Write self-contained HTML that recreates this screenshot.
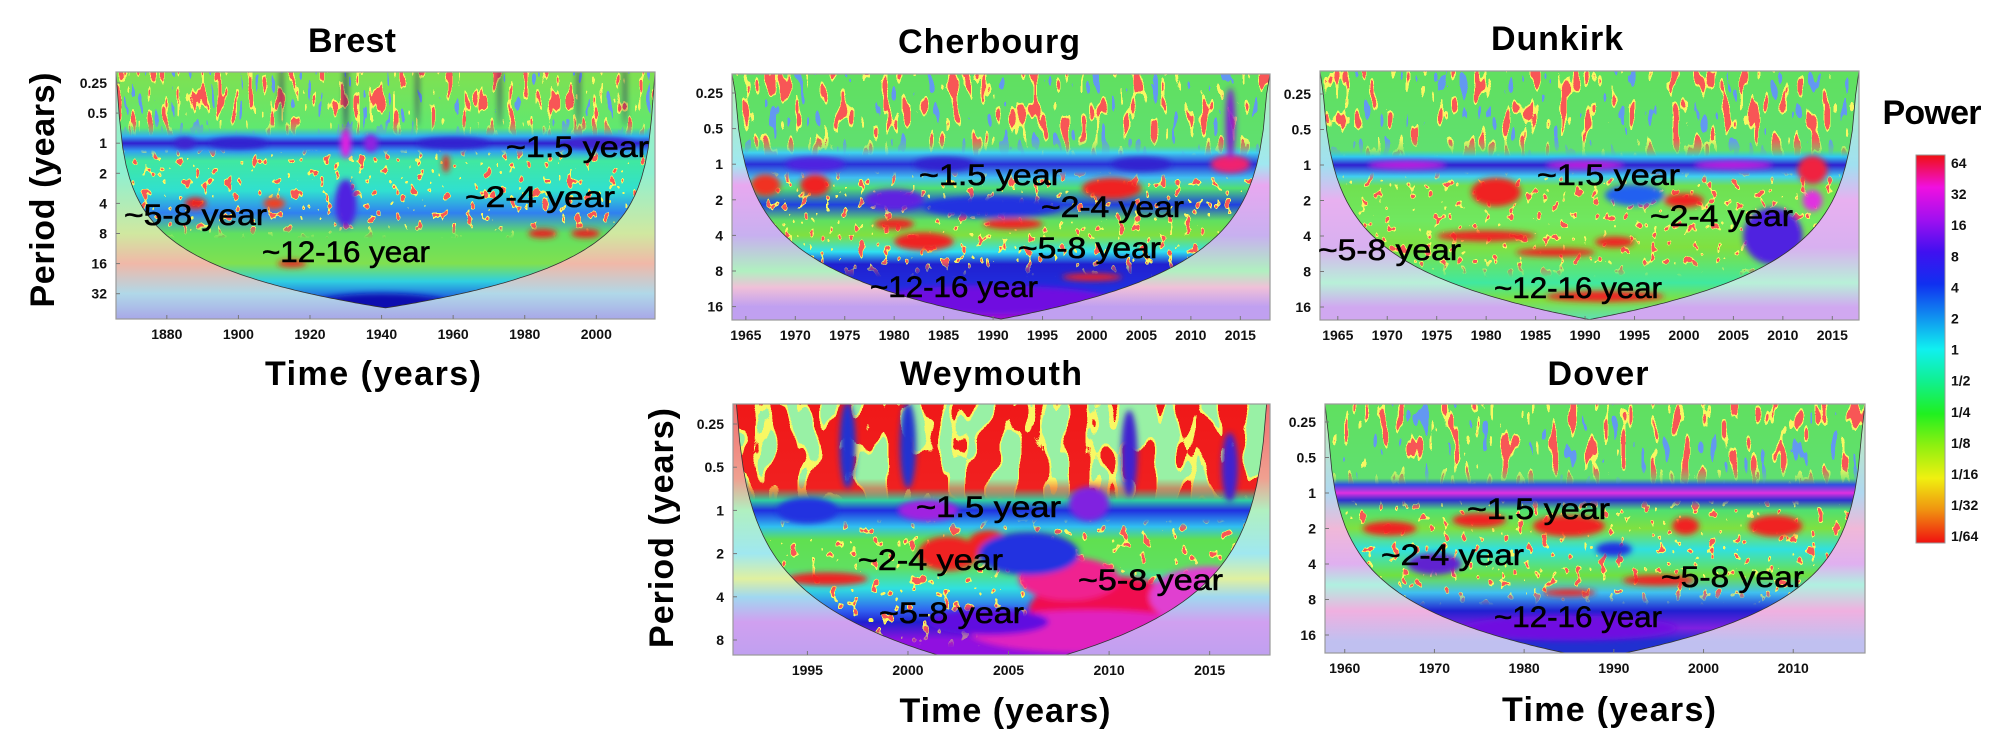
<!DOCTYPE html>
<html><head><meta charset="utf-8">
<style>
html,body{margin:0;padding:0;background:#fff;}
svg{display:block;font-family:"Liberation Sans",sans-serif;}
.ttl{font-weight:bold;font-size:34px;fill:#000;}
.ann{font-size:30px;fill:#000;stroke:#000;stroke-width:0.6;}
.tk{font-weight:bold;font-size:14px;fill:#111;}
</style></head>
<body>
<svg id="root" width="2008" height="754" viewBox="0 0 2008 754">
<defs id="defs">
  <filter id="blur3" x="-50%" y="-50%" width="200%" height="200%"><feGaussianBlur stdDeviation="3"/></filter>
  <linearGradient id="cbar" x1="0" y1="0" x2="0" y2="1">
    <stop offset="0" stop-color="#f01010"/><stop offset="0.083" stop-color="#f010e0"/>
    <stop offset="0.167" stop-color="#a010f0"/><stop offset="0.25" stop-color="#4010f0"/>
    <stop offset="0.333" stop-color="#1030f0"/><stop offset="0.417" stop-color="#1090f0"/>
    <stop offset="0.5" stop-color="#10f0f0"/><stop offset="0.583" stop-color="#10f090"/>
    <stop offset="0.667" stop-color="#20f020"/><stop offset="0.75" stop-color="#90f010"/>
    <stop offset="0.833" stop-color="#f0f010"/><stop offset="0.917" stop-color="#f09010"/>
    <stop offset="1" stop-color="#f01010"/>
  </linearGradient>
</defs>

<text class="ttl" x="352" y="52" text-anchor="middle" textLength="88">Brest</text>
<text class="ttl" x="989" y="53" text-anchor="middle" textLength="182">Cherbourg</text>
<text class="ttl" x="1557" y="50" text-anchor="middle" textLength="132">Dunkirk</text>
<text class="ttl" x="991" y="385" text-anchor="middle" textLength="182">Weymouth</text>
<text class="ttl" x="1598" y="385" text-anchor="middle" textLength="101">Dover</text>

<text class="ttl" transform="translate(54,190) rotate(-90)" text-anchor="middle" textLength="235">Period (years)</text>
<text class="ttl" transform="translate(673,528) rotate(-90)" text-anchor="middle" textLength="240">Period (years)</text>
<text class="ttl" x="373" y="385" text-anchor="middle" textLength="216">Time (years)</text>
<text class="ttl" x="1005" y="722" text-anchor="middle" textLength="211">Time (years)</text>
<text class="ttl" x="1609" y="721" text-anchor="middle" textLength="214">Time (years)</text>

<text class="ttl" x="1932" y="124" text-anchor="middle" textLength="99" font-size="32">Power</text>
<rect x="1916" y="155" width="29" height="388" fill="url(#cbar)" stroke="#999" stroke-width="1"/>
<g id="panels"></g>
<g id="cbticks"></g>
<g id="annots"></g>
</svg>

<script>
// ---------- data ----------
const cbLabels = ["64","32","16","8","4","2","1","1/2","1/4","1/8","1/16","1/32","1/64"];

const brestXTicks = [1880,1900,1920,1940,1960,1980,2000];
const brestYTicks = [0.25,0.5,1,2,4,8,16,32];
const brestBlobs = [
 [1930,1,1.5,0.5,'#e020e0'],[1937,1,2,0.3,'#9020e0'],[1930,4,3,0.8,'#5020e0'],
 [1885,1,3,0.2,'#4020d0'],[1900,1,8,0.2,'#3020d0'],[1960,1,10,0.2,'#3020d0'],[2000,1,10,0.2,'#4020d0'],
 [1985,8,4,0.15,'#e82020'],[1997,8,4,0.15,'#e82020'],[2007,14,5,0.2,'#e82020'],[1915,16,4,0.12,'#e82020'],
 [1940,45,22,0.5,'#1010b0'],[1888,4,3,0.2,'#e82020'],[1910,4,3,0.2,'#f04020'],[1958,1.6,1,0.3,'#e82020'],
 [1930,0.3,0.4,1.5,'#201060'],[1912,0.3,0.3,1.2,'#201060'],[1973,0.3,0.3,1.2,'#201060'],[1995,0.3,0.3,1.2,'#201060'],[2008,0.3,0.3,1.2,'#201060'],[1950,0.3,0.3,1.2,'#201060']
];
const brestAnn = [["~1.5 year",506,157,143],["~2-4 year",465,207,150],["~5-8 year",124,225,143],["~12-16 year",262,262,168]];

const cherXTicks = [1965,1970,1975,1980,1985,1990,1995,2000,2005,2010,2015];
const cherYTicks = [0.25,0.5,1,2,4,8,16];
const cherBlobs = [
 [2014,1,2,0.25,'#f02070'],[2014,0.45,0.5,1,'#8020d0'],[1972,1.5,1.5,0.3,'#f02020'],[2002,1.6,3,0.3,'#f02020'],
 [1983,4.5,3,0.25,'#f02020'],[1992,3.2,3,0.15,'#f02020'],[1980,3.2,2,0.15,'#f02020'],[1990,2.3,7,0.3,'#2030e0'],
 [1980,2,3,0.3,'#6020e0'],[1990,14,12,0.4,'#7010e0'],[2000,9,3,0.1,'#f02020'],[1967,1.5,1.5,0.3,'#f03020'],
 [1972,1,3,0.2,'#5020e0'],[1985,1,3,0.2,'#3020d0'],[2005,1,3,0.2,'#3020d0']
];
const cherAnn = [["~1.5 year",919,185,143],["~2-4 year",1041,217,143],["~5-8 year",1018,258,143],["~12-16 year",870,297,168]];

const dunXTicks = [1965,1970,1975,1980,1985,1990,1995,2000,2005,2010,2015];
const dunYTicks = [0.25,0.5,1,2,4,8,16];
const dunBlobs = [
 [2013,1.1,1.5,0.4,'#f02040'],[2013,2,1,0.3,'#e030e0'],[1981,1.7,2.5,0.4,'#f02020'],[1972,1,4,0.12,'#c020e0'],
 [1990,1,4,0.12,'#c020e0'],[2005,1,4,0.12,'#c020e0'],[1980,4,5,0.15,'#f02020'],[1987,5.5,4,0.12,'#f02020'],
 [1992,13,6,0.15,'#f02020'],[2009,4,3,0.8,'#5020e0'],[2000,2,2,0.2,'#f02020'],[1993,4.5,2,0.15,'#f02020'],
 [1995,1.8,3,0.3,'#2060f0']
];
const dunAnn = [["~1.5 year",1537,185,143],["~2-4 year",1650,226,143],["~5-8 year",1318,260,143],["~12-16 year",1494,298,168]];

const weyXTicks = [1995,2000,2005,2010,2015];
const weyYTicks = [0.25,0.5,1,2,4,8];
const weyBlobs = [
 [2010,5,4,0.8,'#f01050'],[2008,3,2.5,0.5,'#f02090'],[2009,7,6,0.5,'#e020c0'],[2004,6,3,0.3,'#6010e0'],
 [2001,1,1.5,0.25,'#a020e0'],[1995,1,1.5,0.3,'#2030e0'],[1996,3,2,0.15,'#f02020'],[2002,2,1.5,0.4,'#f02020'],
 [2004,1.7,1,0.3,'#f02020'],[2006,2,2.5,0.5,'#2030e0'],[2009,0.9,1,0.4,'#8020e0'],[2015,4,3,0.7,'#e040d0'],
 [1997,0.35,0.4,1,'#2030d0'],[2000,0.35,0.4,1,'#2030d0'],[2011,0.4,0.4,1,'#4020d0'],[2016,0.5,0.4,0.8,'#4020d0']
];
const weyAnn = [["~1.5 year",916,517,145],["~2-4 year",858,570,145],["~5-8 year",1078,590,145],["~5-8 year",879,623,145]];

const dovXTicks = [1960,1970,1980,1990,2000,2010];
const dovYTicks = [0.25,0.5,1,2,4,8,16];
const dovBlobs = [
 [1985,1.9,4,0.3,'#f02020'],[2008,1.9,3,0.3,'#f02020'],[1975,1.7,3,0.2,'#f02020'],[1965,2,3,0.2,'#f02020'],
 [1995,5.5,4,0.15,'#f02020'],[1985,7,3,0.1,'#f02020'],[1985,14,12,0.35,'#7010e0'],[1970,4,3,0.3,'#6020d0'],
 [1990,3,2,0.2,'#2030e0'],[1998,1.9,1.5,0.25,'#f02020']
];
const dovAnn = [["~1.5 year",1467,519,143],["~2-4 year",1381,565,143],["~5-8 year",1661,587,143],["~12-16 year",1494,627,168]];

// ---------- panel configs (layout/style) ----------
const panels = [
 {id:'brest',x0:116,x1:655,y0:72,y1:319,t0:1865.8,t1:2016.4,yq:83,ppo:30.1,k:0.59,
  xt:brestXTicks,yt:brestYTicks,blobs:brestBlobs,ann:brestAnn,seed:3,freq:"0.13 0.035",
  inside:[[0.18,'#80e050'],[0.7,'#60e870'],[0.85,'#30b0f0'],[1,'#3020d0'],[1.2,'#30a0f0'],[1.5,'#40e8a0'],[3,'#30e0d0'],[5,'#3080f0'],[8,'#60e060'],[16,'#80e050'],[24,'#30d0e0'],[40,'#1a40e0'],[60,'#1010c0']],
  outside:[[0.18,'#a0f0c0'],[2,'#90f0d0'],[8,'#d0e8a0'],[16,'#f0b8a8'],[32,'#b0d8e8'],[60,'#a8a8e8']],
  tex:'green'},
 {id:'cherbourg',x0:732,x1:1270,y0:74,y1:320,t0:1963.6,t1:2018,yq:93,ppo:35.6,k:0.75,
  xt:cherXTicks,yt:cherYTicks,blobs:cherBlobs,ann:cherAnn,seed:7,freq:"0.1 0.03",
  inside:[[0.18,'#60e060'],[0.7,'#60e070'],[0.8,'#40d0f0'],[1,'#2a30d8'],[1.3,'#40c0f0'],[1.6,'#50e070'],[2.2,'#2040e0'],[3,'#60e060'],[4,'#80e040'],[5.5,'#30e0f0'],[7,'#2020d0'],[12,'#2030e0'],[16,'#8020e0'],[20,'#a010d0']],
  outside:[[0.18,'#b0f0b0'],[1,'#a0e8f0'],[1.5,'#e8a8f0'],[4,'#c8b0f0'],[8,'#b0f0c0'],[11,'#f0c0d8'],[16,'#c0a0f0'],[20,'#c0a0f0']],
  tex:'green'},
 {id:'dunkirk',x0:1320,x1:1859,y0:71,y1:320,t0:1963.2,t1:2017.7,yq:94,ppo:35.5,k:0.75,
  xt:dunXTicks,yt:dunYTicks,blobs:dunBlobs,ann:dunAnn,seed:11,freq:"0.1 0.03",
  inside:[[0.18,'#60e060'],[0.75,'#60e070'],[0.85,'#30c8f0'],[1,'#3020d0'],[1.25,'#40d0f0'],[1.5,'#70e050'],[3,'#70e860'],[5,'#80e040'],[10,'#40e8a0'],[14,'#80e040'],[20,'#60e0b0']],
  outside:[[0.18,'#b0f0c0'],[1,'#a0e0f0'],[2,'#e8b0f0'],[5,'#d8b0f0'],[10,'#b8f0d8'],[16,'#d0a8f0'],[20,'#d0a8f0']],
  tex:'green'},
 {id:'weymouth',x0:733,x1:1270,y0:404,y1:655,t0:1991.3,t1:2018,yq:424,ppo:43.2,k:1.0,
  xt:weyXTicks,yt:weyYTicks,blobs:weyBlobs,ann:weyAnn,seed:5,freq:"0.045 0.02",
  inside:[[0.18,'#f01818'],[0.7,'#f02020'],[0.85,'#30d0a0'],[1,'#2030e0'],[1.3,'#30c0f0'],[1.6,'#60e050'],[2.5,'#60e060'],[3.5,'#30e0e0'],[5,'#3060f0'],[6,'#2020d0'],[8,'#9010e0'],[11,'#9010e0']],
  outside:[[0.18,'#f07070'],[0.6,'#f0a090'],[1,'#b0f0c0'],[2,'#a0e8f0'],[3,'#e0f0a0'],[4,'#a0d8f0'],[6,'#d0a0f0'],[11,'#c0a0f0']],
  tex:'red'},
 {id:'dover',x0:1325,x1:1865,y0:404,y1:653,t0:1957.8,t1:2018,yq:422,ppo:35.5,k:0.85,
  xt:dovXTicks,yt:dovYTicks,blobs:dovBlobs,ann:dovAnn,seed:13,freq:"0.1 0.03",
  inside:[[0.18,'#60e060'],[0.75,'#60e070'],[0.85,'#3050e0'],[1,'#e030e0'],[1.15,'#3030d0'],[1.4,'#50e070'],[2,'#80e040'],[3,'#30e0e0'],[5,'#70e040'],[7,'#40c0f0'],[10,'#2020d0'],[14,'#8020e0'],[18,'#2030d0']],
  outside:[[0.18,'#c0f0b0'],[1,'#b0d8f0'],[2,'#f0b8d8'],[4,'#e0b0f0'],[6,'#b0f0e0'],[10,'#f0b0e0'],[18,'#c0c0f0']],
  tex:'green'}
];

const NS='http://www.w3.org/2000/svg';
function mk(tag,attrs,parent){const e=document.createElementNS(NS,tag);for(const k in attrs)e.setAttribute(k,attrs[k]);if(parent)parent.appendChild(e);return e;}
const defs=document.getElementById('defs');
const root=document.getElementById('panels');

function table(thr,above){const a=[];for(let i=0;i<20;i++){const v=i/20;a.push(above?(v>=thr?1:0):((i+1)/20<=thr?1:0));}return a.join(' ');}

panels.forEach(P=>{
  const yOf=p=>P.yq+(Math.log2(p)+2)*P.ppo;
  const xOf=t=>P.x0+(t-P.t0)/(P.t1-P.t0)*(P.x1-P.x0);
  const W=P.x1-P.x0,H=P.y1-P.y0;
  const off=p=>Math.max(0,Math.min(1,(yOf(p)-P.y0)/H));
  function grad(id,stops){
    const g=mk('linearGradient',{id:id,x1:0,y1:0,x2:0,y2:1},defs);
    stops.forEach(s=>mk('stop',{offset:off(s[0]),'stop-color':s[1]},g));
  }
  grad(P.id+'-in',P.inside); grad(P.id+'-out',P.outside);
  let d=`M${P.x0},${P.y0}`;
  for(let i=0;i<=160;i++){const t=P.t0+(P.t1-P.t0)*i/160;const dist=Math.min(t-P.t0,P.t1-t);const p=P.k*dist;
    let y=p<=0?P.y0:Math.max(P.y0,Math.min(P.y1,yOf(p)));d+=` L${xOf(t).toFixed(1)},${y.toFixed(1)}`;}
  d+=' Z';
  const cp=mk('clipPath',{id:P.id+'-cone'},defs); mk('path',{d:d},cp);
  const cr=mk('clipPath',{id:P.id+'-rect'},defs); mk('rect',{x:P.x0,y:P.y0,width:W,height:H},cr);

  // texture layers: [color, threshold, above?, freq, seedOffset, maskKind]
  let layers;
  if(P.tex==='green'){
    layers=[['#f0f020',0.56,true,P.freq,0,'top'],['#f01818',0.61,true,P.freq,0,'top'],['#2050e0',0.34,false,P.freq,0,'top'],
            ['#f0f020',0.64,true,'0.12 0.09',9,'mid'],['#f01818',0.69,true,'0.12 0.09',9,'mid']];
  } else {
    layers=[['#f0f020',0.5,false,P.freq,0,'top'],['#50e060',0.45,false,P.freq,0,'top'],
            ['#f0f020',0.64,true,'0.1 0.08',9,'mid'],['#f01818',0.69,true,'0.1 0.08',9,'mid']];
  }
  layers.forEach((L,i)=>{
    const f=mk('filter',{id:P.id+'-tx'+i,filterUnits:'userSpaceOnUse',x:P.x0,y:P.y0,width:W,height:H},defs);
    mk('feTurbulence',{type:'fractalNoise',baseFrequency:L[3],numOctaves:2,seed:P.seed+L[4],result:'n'},f);
    const rgb=[parseInt(L[0].substr(1,2),16)/255,parseInt(L[0].substr(3,2),16)/255,parseInt(L[0].substr(5,2),16)/255];
    mk('feColorMatrix',{type:'matrix',values:`0 0 0 0 ${rgb[0]} 0 0 0 0 ${rgb[1]} 0 0 0 0 ${rgb[2]} 1 0 0 0 0`,result:'c'},f);
    const ct=mk('feComponentTransfer',{},f); mk('feFuncA',{type:'discrete',tableValues:table(L[1],L[2])},ct);
  });
  const mg=mk('linearGradient',{id:P.id+'-mg',gradientUnits:'userSpaceOnUse',x1:0,x2:0,y1:yOf(0.6),y2:yOf(0.85)},defs);
  mk('stop',{offset:0,'stop-color':'#fff'},mg); mk('stop',{offset:1,'stop-color':'#000'},mg);
  const m=mk('mask',{id:P.id+'-mask',maskUnits:'userSpaceOnUse',x:P.x0,y:P.y0,width:W,height:H},defs);
  mk('rect',{x:P.x0,y:P.y0,width:W,height:H,fill:`url(#${P.id}-mg)`},m);
  const mg2=mk('linearGradient',{id:P.id+'-mg2',gradientUnits:'userSpaceOnUse',x1:0,x2:0,y1:yOf(1.15),y2:yOf(9)},defs);
  mk('stop',{offset:0,'stop-color':'#000'},mg2); mk('stop',{offset:0.08,'stop-color':'#fff'},mg2);
  mk('stop',{offset:0.85,'stop-color':'#fff'},mg2); mk('stop',{offset:1,'stop-color':'#000'},mg2);
  const m2=mk('mask',{id:P.id+'-mask2',maskUnits:'userSpaceOnUse',x:P.x0,y:P.y0,width:W,height:H},defs);
  mk('rect',{x:P.x0,y:P.y0,width:W,height:H,fill:`url(#${P.id}-mg2)`},m2);

  const g=mk('g',{},root);
  
  
  const bg=mk('rect',{x:P.x0,y:P.y0,width:W,height:H,fill:`url(#${P.id}-out)`},g);
  
  
  const ins=mk('g',{'clip-path':`url(#${P.id}-cone)`},g);
  
  
  mk('rect',{x:P.x0,y:P.y0,width:W,height:H,fill:`url(#${P.id}-in)`},ins);
  const tg=mk('g',{mask:`url(#${P.id}-mask)`},ins);
  const tg2=mk('g',{mask:`url(#${P.id}-mask2)`},ins);
  layers.forEach((L,i)=>{mk('rect',{x:P.x0,y:P.y0,width:W,height:H,fill:'#fff',filter:`url(#${P.id}-tx${i})`},L[5]==='top'?tg:tg2);});
  const bl=mk('g',{filter:'url(#blur3)'},ins);
  const pxYr=W/(P.t1-P.t0);
  P.blobs.forEach(b=>{
    const e=mk('ellipse',{cx:xOf(b[0]),cy:yOf(b[1]),rx:b[2]*pxYr,ry:b[3]*P.ppo,fill:b[4]},bl);
    
    
  });
  const cl=mk('path',{d:d.replace(/ Z$/,''),fill:'none',stroke:'#333','stroke-width':0.8,'clip-path':`url(#${P.id}-rect)`},g);
  
  
  const fr=mk('rect',{x:P.x0,y:P.y0,width:W,height:H,fill:'none',stroke:'#999','stroke-width':1.2},g);
  
  
  P.xt.forEach(t=>{
    const x=xOf(t);
    mk('line',{x1:x,x2:x,y1:P.y1,y2:P.y1-4,stroke:'#777'},g);
    const tx=mk('text',{x:x,y:P.y1+20,'text-anchor':'middle',class:'tk'},g);
    tx.textContent=String(t);
    
    
  });
  P.yt.forEach(p=>{
    const y=yOf(p);
    mk('line',{x1:P.x0,x2:P.x0+4,y1:y,y2:y,stroke:'#777'},g);
    const tx=mk('text',{x:P.x0-9,y:y+5,'text-anchor':'end',class:'tk'},g);
    tx.textContent=String(p);
    
    
  });
  const ag=document.getElementById('annots');
  P.ann.forEach(a=>{
    const tx=mk('text',{x:a[1],y:a[2],class:'ann',textLength:a[3],lengthAdjust:'spacingAndGlyphs'},ag);
    tx.textContent=a[0];
    
    
  });
});

const cb=document.getElementById('cbticks');
cbLabels.forEach((l,i)=>{
  const tx=mk('text',{x:1951,y:168+i*31.1,class:'tk'},cb);
  tx.textContent=l;
  
  
});
</script>
</body></html>
